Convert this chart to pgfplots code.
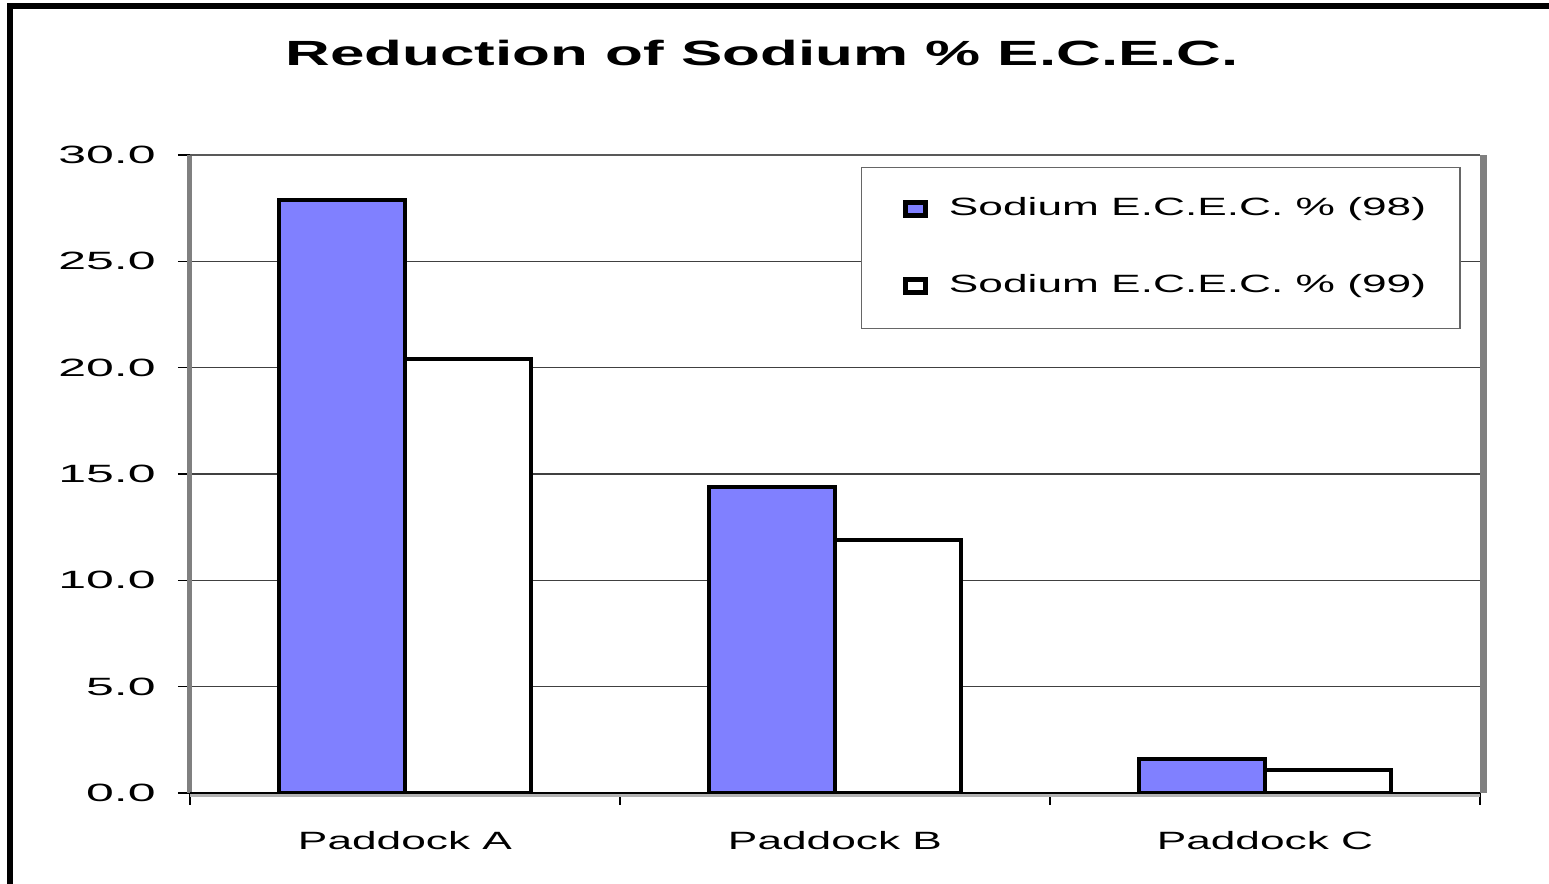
\documentclass[border=0pt]{standalone}
\usepackage{pgfplots}
\pgfplotsset{compat=1.18}
\usepackage{fontspec}
\setmainfont{Liberation Sans}
\usepackage{graphicx}
\definecolor{c98}{HTML}{8080FF}
\newcommand{\sx}[1]{\scalebox{1.77}[1]{#1}}
\begin{document}
\begin{tikzpicture}[x=1pt,y=1pt]
\useasboundingbox (0,0) rectangle (774.5,442);
\fill[white] (0,0) rectangle (774.5,442);
\draw[black, line width=3pt] (5,0) -- (5,438.75) -- (774.5,438.75);
\node[font=\fontsize{17.5}{21}\selectfont\bfseries, anchor=base] at (381,409) {\sx{Reduction of Sodium \% E.C.E.C.}};
\begin{axis}[
  at={(95pt,45.5pt)}, anchor=south west,
  scale only axis, width=645pt, height=319pt,
  xmin=-0.5, xmax=2.5, ymin=0, ymax=30,
  axis line style={draw=none},
  ytick={0,5,...,30},
  ytick pos=left, xtick pos=bottom,
  ymajorgrids, major grid style={draw=black!75, line width=0.6pt},
  xtick={-0.5,0.5,1.5,2.5},
  xticklabels={},
  extra x ticks={0,1,2},
  extra x tick labels={\sx{Paddock A},\sx{Paddock B},\sx{Paddock C}},
  extra x tick style={grid=none, major tick length=0pt, tick style={draw=none},
    xticklabel style={anchor=north, inner sep=0pt, yshift=-19pt, font=\fontsize{12.5}{15}\selectfont}},
  x tick style={draw=black, line width=0.6pt},
  y tick style={draw=black, line width=0.6pt},
  tick align=outside, major tick length=6pt,
  /pgf/number format/assume math mode=true,
  yticklabel={\scalebox{2}[1]{\pgfmathprintnumber[fixed,fixed zerofill,precision=1]{\tick}}},
  yticklabel style={font=\fontsize{12.5}{15}\selectfont, anchor=east, inner sep=0pt, xshift=-11pt},
  ybar=0pt, bar width=63pt,
  legend style={at={(0.985,0.981)}, anchor=north east, draw=black!60, line width=0.6pt, fill=white,
    inner xsep=17pt, inner ysep=15pt, row sep=26.5pt,
    font=\fontsize{12.5}{15}\selectfont,
    nodes={inner sep=0pt, text height=9pt, text depth=3pt},
    /tikz/every odd column/.append style={column sep=10.5pt}},
  legend cell align=left,
  clip=false,
]
\addplot[fill=c98, draw=black, line width=2pt,
  legend image code/.code={\path (2.5pt,0pt); \draw[fill=c98, draw=black, line width=2.5pt] (6.5pt,-3pt) rectangle (16.5pt,3.5pt);}]
  coordinates {(0,27.9) (1,14.4) (2,1.6)};
\addlegendentry{\sx{Sodium E.C.E.C. \% (98)}}
\addplot[fill=white, draw=black, line width=2pt,
  legend image code/.code={\path (2.5pt,0pt); \draw[fill=white, draw=black, line width=2.5pt] (6.5pt,-3pt) rectangle (16.5pt,3.5pt);}]
  coordinates {(0,20.4) (1,11.9) (2,1.1)};
\addlegendentry{\sx{Sodium E.C.E.C. \% (99)}}
\draw[black!50, line width=2.5pt] (rel axis cs:0,0) -- (rel axis cs:0,1);
\draw[black!65, line width=1pt] (rel axis cs:0,1) -- (rel axis cs:1,1);
\draw[black!50, line width=3.5pt] ([xshift=1.75pt]rel axis cs:1,0) -- ([xshift=1.75pt]rel axis cs:1,1);
\draw[black!30, line width=2pt] ([yshift=-1pt]rel axis cs:0,0) -- ([yshift=-1pt]rel axis cs:1,0);
\draw[black, line width=0.7pt] (rel axis cs:0,0) -- (rel axis cs:1,0);
\end{axis}
\end{tikzpicture}
\end{document}
